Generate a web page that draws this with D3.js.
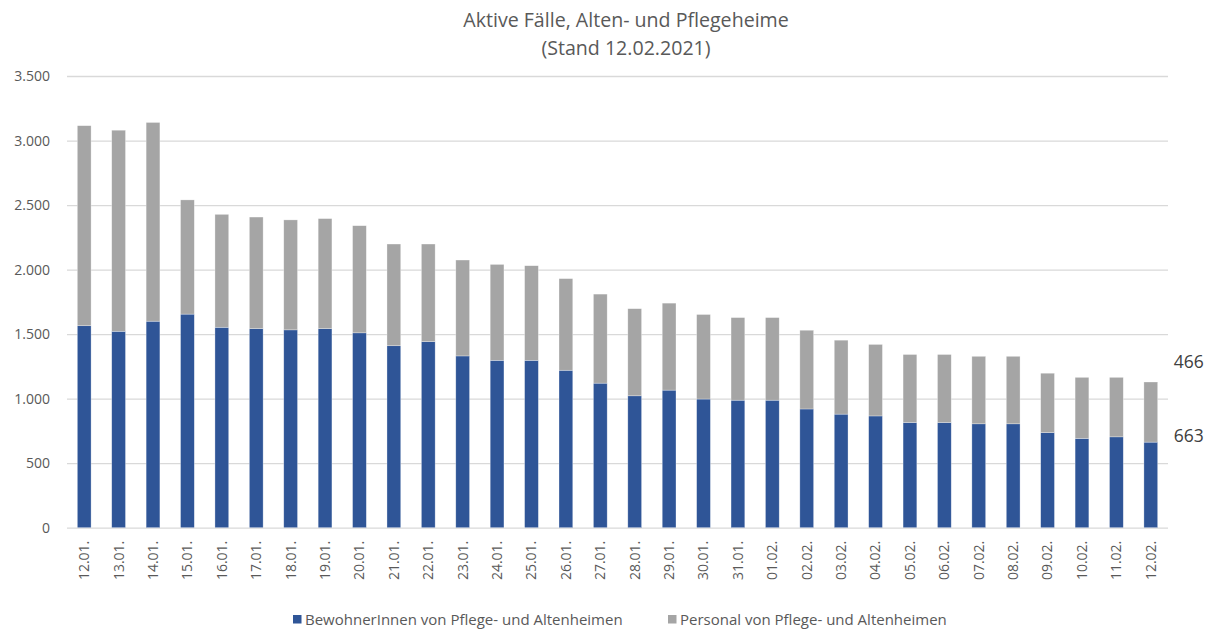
<!DOCTYPE html>
<html>
<head>
<meta charset="utf-8">
<script src="https://cdn.jsdelivr.net/npm/d3@7"></script>
<style>
  body { margin: 0; background: #fff; }
  svg { font-family: "Open Sans", sans-serif; }
</style>
</head>
<body>
<svg id="canvas" width="1212" height="632"></svg>
<script>
// dates on the x axis
let days = ["12.01.", "13.01.", "14.01.", "15.01.", "16.01.", "17.01.", "18.01.", "19.01.",
  "20.01.", "21.01.", "22.01.", "23.01.", "24.01.", "25.01.", "26.01.", "27.01.", "28.01.",
  "29.01.", "30.01.", "31.01.", "01.02.", "02.02.", "03.02.", "04.02.", "05.02.", "06.02.",
  "07.02.", "08.02.", "09.02.", "10.02.", "11.02.", "12.02."];

// BewohnerInnen (blue, bottom)
let residents = [1565, 1522, 1600, 1655, 1553, 1543, 1533, 1543, 1510, 1410, 1442, 1331,
  1297, 1297, 1220, 1120, 1022, 1066, 997, 988, 988, 920, 880, 866, 815, 815, 805, 805,
  737, 692, 704, 663];

// Personal (grey, on top)
let staff = [1550, 1558, 1540, 885, 875, 864, 852, 852, 830, 788, 756, 743, 743, 733,
  710, 690, 675, 674, 655, 640, 640, 610, 573, 554, 527, 527, 523, 523, 460, 473, 461, 466];

let yTicks = [0, 500, 1000, 1500, 2000, 2500, 3000, 3500];
let seriesNames = ["BewohnerInnen von Pflege- und Altenheimen", "Personal von Pflege- und Altenheimen"];
let colors = ["#2F5597", "#A5A5A5"];

let canvas = d3.select("#canvas");
let plotLeft = 67, plotRight = 1168, plotTop = 76, plotBottom = 527.7;

let xScale = d3.scaleBand().domain(days).range([plotLeft, plotRight]).paddingInner(0.6).paddingOuter(0.3);
let yScale = d3.scaleLinear().domain([0, 3500]).range([plotBottom, plotTop]);
let fmt = d3.format(",");
let deNum = (v) => fmt(v).replace(/,/g, ".");

// title
canvas.append("text").attr("x", 626).attr("y", 27).attr("text-anchor", "middle")
  .attr("font-size", 19.6).attr("fill", "#595959").text("Aktive Fälle, Alten- und Pflegeheime");
canvas.append("text").attr("x", 626).attr("y", 55).attr("text-anchor", "middle")
  .attr("font-size", 19.6).attr("fill", "#595959").text("(Stand 12.02.2021)");

// grid + y labels
let yAxis = d3.axisLeft(yScale).tickValues(yTicks).tickSize(-(plotRight - plotLeft)).tickPadding(17)
  .tickFormat(deNum);
let yG = canvas.append("g").attr("transform", "translate(" + plotLeft + ",0)").call(yAxis);
yG.select(".domain").remove();
yG.selectAll(".tick line").attr("stroke", "#D9D9D9").attr("stroke-width", 1.3);
yG.selectAll(".tick text").attr("fill", "#595959").attr("font-size", 14)
  .attr("font-family", "Open Sans, sans-serif");

// stacked bars
let table = days.map((d, i) => ({ day: d, residents: residents[i], staff: staff[i] }));
let stacked = d3.stack().keys(["residents", "staff"])(table);

canvas.selectAll("g.series")
  .data(stacked)
  .enter()
  .append("g")
  .attr("class", "series")
  .attr("fill", (s, i) => colors[i])
  .selectAll("rect")
  .data((s) => s)
  .enter()
  .append("rect")
  .attr("x", (d) => xScale(d.data.day))
  .attr("width", xScale.bandwidth())
  .attr("y", (d) => yScale(d[1]))
  .attr("height", (d) => yScale(d[0]) - yScale(d[1]))
  .attr("stroke", "#ffffff")
  .attr("stroke-opacity", 0.5)
  .attr("stroke-width", 0.6);

// x labels, rotated
let xG = canvas.append("g").attr("transform", "translate(0," + plotBottom + ")")
  .call(d3.axisBottom(xScale).tickSize(0).tickPadding(0));
xG.select(".domain").remove();
xG.selectAll(".tick text")
  .attr("transform", "rotate(-90)")
  .attr("text-anchor", "end")
  .attr("x", -13)
  .attr("y", 0)
  .attr("dy", "0.35em")
  .attr("fill", "#595959")
  .attr("font-size", 14)
  .attr("font-family", "Open Sans, sans-serif");

// value labels for the last day
let last = days.length - 1;
let lastX = xScale(days[last]) + xScale.bandwidth() + 16;
canvas.append("text").attr("x", lastX).attr("y", yScale(residents[last] + staff[last]) - 14)
  .attr("font-size", 17.5).attr("fill", "#404040").text(staff[last]);
canvas.append("text").attr("x", lastX).attr("y", yScale(residents[last]))
  .attr("font-size", 17.5).attr("fill", "#404040").text(residents[last]);

// legend
let legendX = [293, 668];
seriesNames.forEach((name, i) => {
  canvas.append("rect").attr("x", legendX[i]).attr("y", 615).attr("width", 8.5).attr("height", 8.5)
    .attr("fill", colors[i]);
  canvas.append("text").attr("x", legendX[i] + 12).attr("y", 624.5)
    .attr("font-size", 15).attr("fill", "#595959").text(name);
});
</script>
</body>
</html>
